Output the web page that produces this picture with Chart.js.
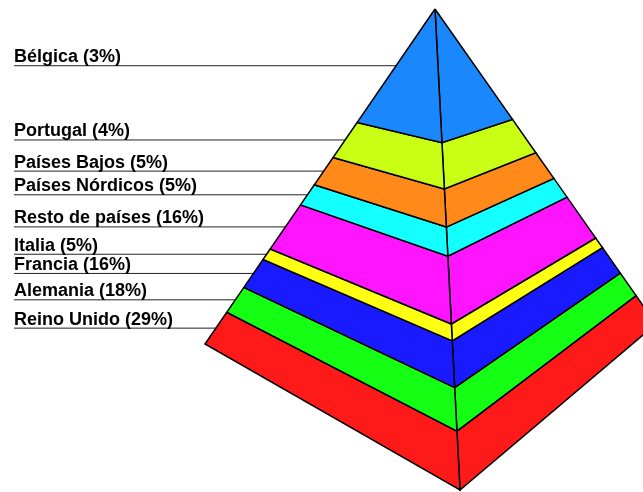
<!DOCTYPE html>
<html>
<head>
<meta charset="utf-8">
<script src="https://cdn.jsdelivr.net/npm/chart.js@4/dist/chart.umd.min.js"></script>
<style>
  html, body { margin: 0; padding: 0; background: #fff; }
  #wrap { width: 643px; height: 492px; position: relative; }
</style>
</head>
<body>
<div id="wrap"><canvas id="pyramid"></canvas></div>
<script>
// data, top of the pyramid first
const categories = ['Bélgica', 'Portugal', 'Países Bajos', 'Países Nórdicos', 'Resto de países', 'Italia', 'Francia', 'Alemania', 'Reino Unido'];
const shares = [3, 4, 5, 5, 16, 5, 16, 18, 29];
const colors = ['#1b87fc', '#c8ff14', '#ff8a1a', '#14ffff', '#ff14ff', '#ffff14', '#1a1aff', '#14ff14', '#ff1a1a'];

// pyramid drawn in a 643x492 value space (apex, 3 visible base corners)
const apex = { x: 435, y: 9 };
const corners = {
  left:  { x: 205, y: 344, warp: 0.876 },
  front: { x: 460, y: 490, warp: 1.166 },
  right: { x: 656, y: 324, warp: 0.831 }
};
const labelX = 14;

const total = shares.reduce((a, b) => a + b, 0);

// layer volume -> position along an edge (cube root, slight perspective)
function edgePoint(name, frac) {
  const c = corners[name];
  const t = Math.cbrt(frac);
  const s = t / (c.warp + (1 - c.warp) * t);
  return { x: apex.x + (c.x - apex.x) * s, y: apex.y + (c.y - apex.y) * s };
}

const datasets = [];
const labels = [];
let cum = 0;
categories.forEach((name, i) => {
  const f0 = cum / total;
  cum += shares[i];
  const f1 = cum / total;

  const L0 = edgePoint('left', f0), L1 = edgePoint('left', f1);
  const F0 = edgePoint('front', f0), F1 = edgePoint('front', f1);
  const R0 = edgePoint('right', f0), R1 = edgePoint('right', f1);

  const face = pts => ({
    data: pts,
    showLine: true,
    fill: 'shape',
    backgroundColor: colors[i],
    borderColor: '#000',
    borderWidth: 1.5,
    pointRadius: 0,
    tension: 0
  });
  datasets.push(face([L0, L1, F1, F0, L0]));
  datasets.push(face([F0, F1, R1, R0, F0]));

  // leader line at the middle of the layer on the left edge
  const ym = (L0.y + L1.y) / 2;
  const xm = apex.x + (corners.left.x - apex.x) * (ym - apex.y) / (corners.left.y - apex.y);
  datasets.push({
    data: [{ x: labelX, y: ym }, { x: xm, y: ym }],
    showLine: true,
    fill: false,
    borderColor: '#222',
    borderWidth: 1,
    pointRadius: 0
  });
  labels.push({ text: `${name} (${shares[i]}%)`, y: ym });
});

const labelPlugin = {
  id: 'layerLabels',
  afterDatasetsDraw(chart) {
    const { ctx, scales } = chart;
    ctx.save();
    ctx.font = 'bold 18px "Liberation Sans", Arial, sans-serif';
    ctx.fillStyle = '#000';
    ctx.textBaseline = 'alphabetic';
    labels.forEach(l => {
      ctx.fillText(l.text, scales.x.getPixelForValue(labelX), scales.y.getPixelForValue(l.y) - 3.5);
    });
    ctx.restore();
  }
};

new Chart(document.getElementById('pyramid'), {
  type: 'scatter',
  data: { datasets },
  options: {
    responsive: true,
    maintainAspectRatio: false,
    animation: false,
    layout: { padding: 0 },
    plugins: { legend: { display: false }, tooltip: { enabled: false } },
    scales: {
      x: { type: 'linear', display: false, min: 0, max: 643 },
      y: { type: 'linear', display: false, min: 0, max: 492, reverse: true }
    }
  },
  plugins: [labelPlugin]
});
</script>
</body>
</html>
